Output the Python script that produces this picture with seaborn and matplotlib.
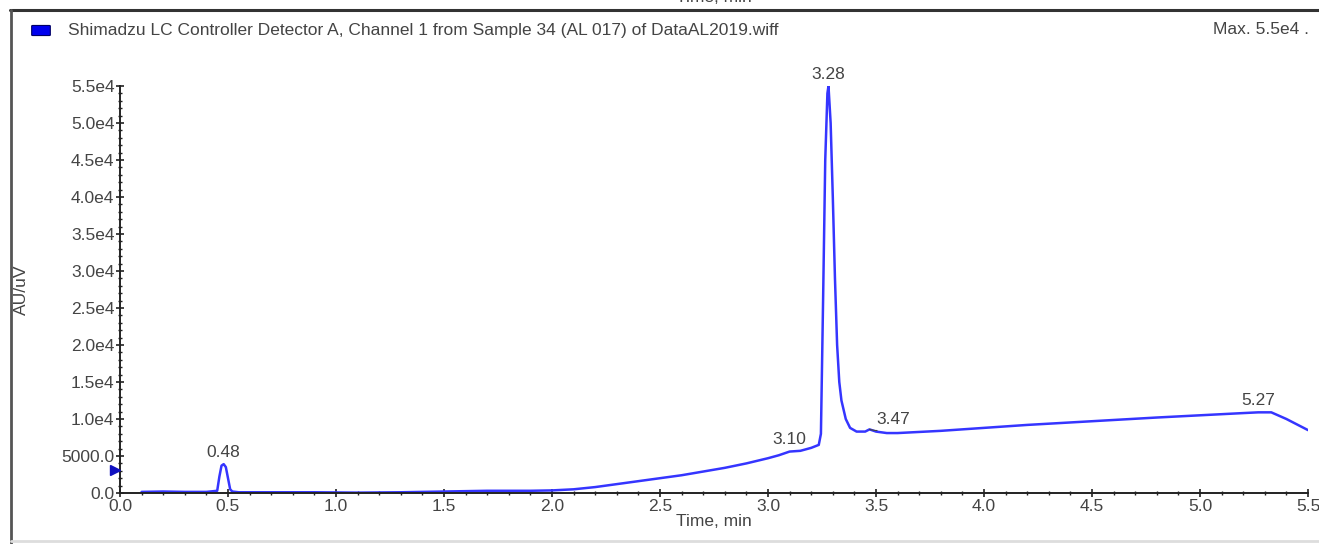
import numpy as np
import pandas as pd
import matplotlib
matplotlib.use("Agg")
import matplotlib.pyplot as plt
from matplotlib.lines import Line2D
from matplotlib.patches import FancyBboxPatch
from matplotlib.ticker import MultipleLocator, FuncFormatter
import seaborn as sns

# chromatogram trace (time in min, response in AU/uV)
time_min = [0.10, 0.20, 0.30, 0.40, 0.45, 0.46, 0.47, 0.48, 0.49, 0.50,
            0.51, 0.52, 0.55, 0.70, 0.90, 1.10, 1.30, 1.50, 1.70, 1.90,
            2.00, 2.10, 2.20, 2.30, 2.40, 2.50, 2.60, 2.70, 2.80, 2.90,
            3.00, 3.05, 3.10, 3.15, 3.20, 3.235, 3.245, 3.255, 3.265, 3.275,
            3.28, 3.29, 3.30, 3.31, 3.32, 3.33, 3.34, 3.36, 3.38, 3.41,
            3.45, 3.47, 3.50, 3.55, 3.60, 3.80, 4.00, 4.20, 4.50, 4.80,
            5.00, 5.20, 5.27, 5.33, 5.40, 5.50]
response = [150, 200, 150, 150, 300, 2200, 3700, 3900, 3500, 2000,
            500, 200, 100, 100, 100, 50, 100, 200, 300, 300,
            350, 500, 800, 1200, 1600, 2000, 2400, 2900, 3400, 4000,
            4700, 5100, 5600, 5700, 6100, 6500, 8000, 26000, 45000, 54000,
            55000, 50000, 40000, 29000, 20000, 15000, 12500, 10000, 8800, 8300,
            8300, 8600, 8300, 8100, 8100, 8400, 8800, 9200, 9700, 10200,
            10500, 10800, 10900, 10900, 10000, 8500]

# peak labels
peak_names = ["0.48", "3.10", "3.28", "3.47", "5.27"]
peak_x = [0.48, 3.10, 3.28, 3.47, 5.27]
peak_y = [3900, 5600, 55000, 8600, 10900]

title = "Shimadzu LC Controller Detector A, Channel 1 from Sample 34 (AL 017) of DataAL2019.wiff"
max_text = "Max. 5.5e4 ."
level_marker = 3100

sns.set_style("white")
plt.rcParams["font.family"] = ["Liberation Sans", "DejaVu Sans"]
txt = "#444444"
blue = "#3535ff"
fs = 12.5

df = pd.DataFrame({"Time, min": time_min, "AU/uV": response})

fig = plt.figure(figsize=(13.19, 5.44), dpi=100)
ax = fig.add_axes([120 / 1319, 51 / 544, 1188 / 1319, 407 / 544])
sns.lineplot(data=df, x="Time, min", y="AU/uV", ax=ax, color=blue, lw=1.8)

ax.set_xlim(0, 5.5)
ax.set_ylim(0, 55000)
ax.xaxis.set_major_locator(MultipleLocator(0.5))
ax.xaxis.set_minor_locator(MultipleLocator(0.1))
ax.yaxis.set_major_locator(MultipleLocator(5000))
ax.yaxis.set_minor_locator(MultipleLocator(1000))

def yfmt(v, pos):
    if v == 0:
        return "0.0"
    if v < 10000:
        return "%.1f" % v
    return "%.1fe4" % (v / 10000)

ax.yaxis.set_major_formatter(FuncFormatter(yfmt))
ax.xaxis.set_major_formatter(FuncFormatter(lambda v, p: "%.1f" % v))

for s in ["top", "right"]:
    ax.spines[s].set_visible(False)
for s in ["left", "bottom"]:
    ax.spines[s].set_color("#222222")
    ax.spines[s].set_linewidth(1.4)
ax.tick_params(which="major", direction="inout", length=6, width=1.2,
               colors="#222222", labelcolor=txt, labelsize=fs, pad=1)
ax.tick_params(which="minor", direction="inout", length=3.5, width=1.0,
               colors="#222222")
ax.tick_params(axis="x", which="both", bottom=True)
ax.tick_params(axis="y", which="both", left=True)

ax.set_xlabel("Time, min", fontsize=fs, color=txt, labelpad=0)
ax.set_ylabel("AU/uV", fontsize=fs, color=txt)
ax.yaxis.set_label_coords(-0.0765, 0.5)

for name, px, py in zip(peak_names, peak_x, peak_y):
    if name == "3.47":
        ax.annotate(name, xy=(px, py), xytext=(px + 0.11, py + 1300),
                    ha="center", va="center", fontsize=fs, color=txt,
                    arrowprops=dict(arrowstyle="-", color=txt, lw=0.8,
                                    connectionstyle="arc3,rad=-0.4",
                                    shrinkA=10, shrinkB=0))
    else:
        ax.annotate(name, xy=(px, py), xytext=(0, 3), textcoords="offset points",
                    ha="center", va="bottom", fontsize=fs, color=txt)

# small level marker at the y axis
ax.plot([-0.025], [level_marker], marker=">", color="#1010c0", ms=7,
        clip_on=False, zorder=5)

# window frame and header
fig.add_artist(Line2D([10 / 1319, 1], [1 - 10 / 544, 1 - 10 / 544],
                      color="#333333", lw=2.2))
fig.add_artist(Line2D([11 / 1319, 11 / 1319], [0, 1 - 10 / 544],
                      color="#555555", lw=2.0))
fig.add_artist(Line2D([11 / 1319, 1], [3 / 544, 3 / 544],
                      color="#dddddd", lw=2.0))
fig.text(714 / 1319, 1 + 3 / 544, "Time, min", ha="center", va="center",
         fontsize=fs, color=txt)
fig.add_artist(FancyBboxPatch((33 / 1319, 1 - 35 / 544), 16 / 1319, 9 / 544,
                              boxstyle="round,pad=0.001", fc="#0000ee",
                              ec="#000066", lw=0.8, transform=fig.transFigure))
fig.text(68 / 1319, 1 - 30 / 544, title, ha="left", va="center",
         fontsize=fs, color=txt)
fig.text(1213 / 1319, 1 - 30 / 544, max_text, ha="left", va="center",
         fontsize=fs, color=txt)

fig.savefig("out.png", dpi=100)
